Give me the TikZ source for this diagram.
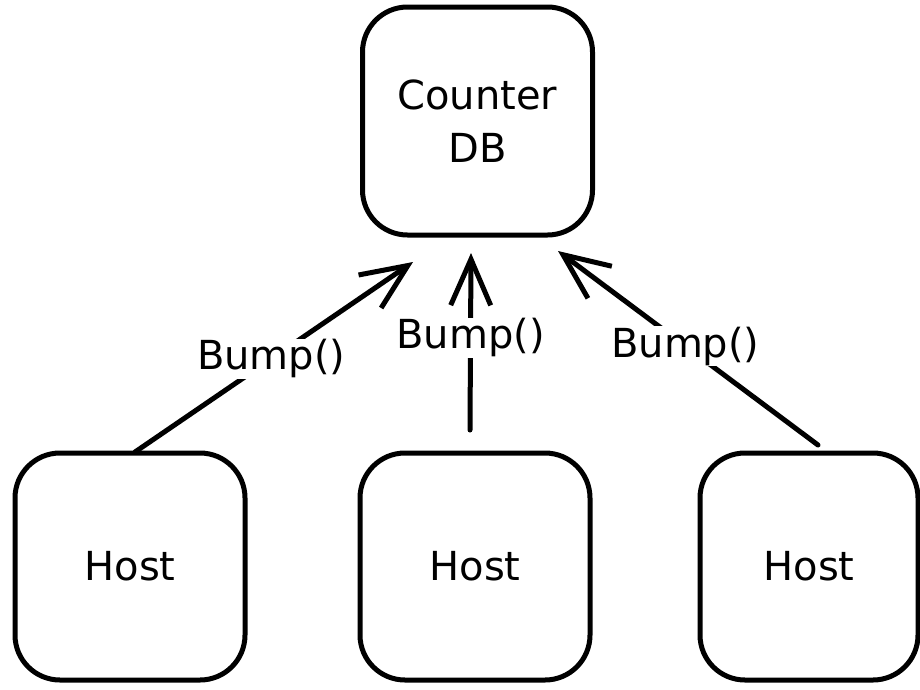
\documentclass[tikz,border=0pt]{standalone}
\usepackage{fontspec}
\setmainfont{DejaVu Sans}
\usetikzlibrary{arrows.meta}
\begin{document}
\begin{tikzpicture}[x=1pt,y=-1pt,
  box/.style={draw=black, line width=5pt, rounded corners=45pt, fill=white,
    minimum width=#1, minimum height=227pt, inner sep=0pt, align=center,
    font=\fontsize{40}{53}\selectfont, text=black},
  box/.default=230pt,
  conn/.style={line width=5pt, draw=black, line cap=round,
    -{Straight Barb[length=46pt,width=40pt,line width=5pt]}},
  lbl/.style={fill=white, inner sep=1pt, font=\fontsize{40}{48}\selectfont, text=black}
]
\useasboundingbox (0,0) rectangle (920,689);
\fill[white] (0,0) rectangle (920,689);

\node[box, minimum height=228pt] (db) at (477.5,121) {Counter\\DB};
\node[box] (h1) at (130,566.5) {Host};
\node[box] (h2) at (475,566.5) {Host};
\node[box=218pt] (h3) at (809,566.5) {Host};

\coordinate (s1) at (135,452);
\coordinate (t1) at (413,262);
\coordinate (s2) at (470,430);
\coordinate (t2) at (471,253);
\coordinate (s3) at (818,445);
\coordinate (t3) at (558,251);

\draw[conn] (s1) -- (t1) node[lbl, pos=0.49] {Bump()};
\draw[conn] (s2) -- (t2) node[lbl, pos=0.52] {Bump()};
\draw[conn] (s3) -- (t3) node[lbl, pos=0.51] {Bump()};
\end{tikzpicture}
\end{document}
